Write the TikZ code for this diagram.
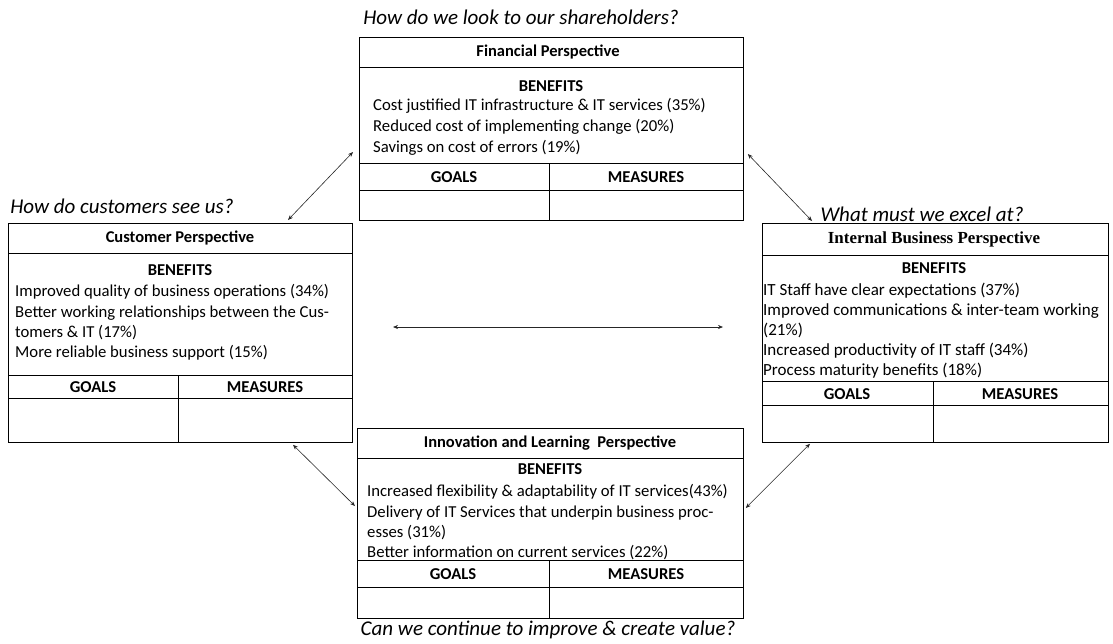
\documentclass[tikz,border=0pt]{standalone}
\usepackage{fontspec}
\setmainfont{Carlito}
\newfontfamily\timesfont{Liberation Serif}
\usetikzlibrary{arrows.meta,calc}

\tikzset{
  box/.style={draw, line width=0.8pt, anchor=north west, inner sep=0pt},
  rule/.style={line width=0.8pt},
  link/.style={{Stealth[length=5pt,width=4pt]}-{Stealth[length=5pt,width=4pt]}, line width=0.6pt, black!85},
  title/.style={font=\fontsize{16.5}{19}\selectfont\bfseries, inner sep=0pt},
  head/.style={font=\fontsize{16.6}{19}\selectfont\bfseries, inner sep=0pt},
  body/.style={align=left, anchor=north west, inner sep=0pt, font=\fontsize{16.7}{20.3}\selectfont},
  question/.style={inner sep=0pt, font=\fontsize{21}{24}\selectfont\itshape}
}

\begin{document}
\begin{tikzpicture}[x=1pt,y=-1pt]
  \useasboundingbox (0,0) rectangle (1113,643);

  % financial
  \node[box, minimum width=384pt, minimum height=183pt] (fin) at (359,37) {};
  \draw[rule] (359,67) -- (743,67);
  \node[title] (fint) at (548,52) {Financial Perspective};
  \node[head] (finh) at (551,86) {BENEFITS};
  \node[body, font=\fontsize{16.7}{21}\selectfont] (finb) at (373,98) {Cost justified IT infrastructure \& IT services (35\%)\\
    Reduced cost of implementing change (20\%)\\Savings on cost of errors (19\%)};
  \filldraw[rule, fill=white] (359,163) rectangle (743,220);
  \draw[rule] (359,190) -- (743,190);
  \draw[rule] (549,163) -- (549,220);
  \node[head] (fing) at (454,177) {GOALS};
  \node[head] (finm) at (646,177) {MEASURES};

  % customer
  \node[box, minimum width=344pt, minimum height=219pt] (cust) at (8,223) {};
  \draw[rule] (8,253) -- (352,253);
  \node[title] (custt) at (180,238) {Customer Perspective};
  \node[head] (custh) at (180,270) {BENEFITS};
  \node[body] (custb) at (15,284.5) {Improved quality of business operations (34\%)\\
    Better working relationships between the Cus-\\tomers \& IT (17\%)\\
    More reliable business support (15\%)};
  \filldraw[rule, fill=white] (8,375) rectangle (352,442);
  \draw[rule] (8,398) -- (352,398);
  \draw[rule] (178,375) -- (178,442);
  \node[head] (custg) at (93,387) {GOALS};
  \node[head] (custm) at (265,387) {MEASURES};

  % internal
  \node[box, minimum width=346pt, minimum height=219pt] (int) at (762,223) {};
  \draw[rule] (762,255) -- (1108,255);
  \node[title, font=\timesfont\fontsize{16.9}{20}\selectfont\bfseries] (intt) at (934,239) {Internal Business Perspective};
  \node[head] (inth) at (934,268) {BENEFITS};
  \node[body, font=\fontsize{17}{20.2}\selectfont] (intb) at (763,282.5) {IT Staff have clear expectations (37\%)\\
    Improved communications \& inter-team working\\(21\%)\\
    Increased productivity of IT staff (34\%)\\Process maturity benefits (18\%)};
  \filldraw[rule, fill=white] (762,381) rectangle (1108,442);
  \draw[rule] (762,405) -- (1108,405);
  \draw[rule] (933,381) -- (933,442);
  \node[head] (intg) at (847,394) {GOALS};
  \node[head] (intm) at (1020,394) {MEASURES};

  % innovation
  \node[box, minimum width=386pt, minimum height=190pt] (inn) at (357,428) {};
  \draw[rule] (357,458) -- (743,458);
  \node[title] (innt) at (550,443) {Innovation and Learning\ \ Perspective};
  \node[head] (innh) at (550,469) {BENEFITS};
  \node[body] (innb) at (367,484.5) {Increased flexibility \& adaptability of IT services(43\%)\\
    Delivery of IT Services that underpin business proc-\\esses (31\%)\\
    Better information on current services (22\%)};
  \filldraw[rule, fill=white] (357,560) rectangle (743,618);
  \draw[rule] (357,587) -- (743,587);
  \draw[rule] (549,560) -- (549,618);
  \node[head] (inng) at (453,574) {GOALS};
  \node[head] (innm) at (646,574) {MEASURES};

  % questions
  \node[question] (qfin) at (521,17) {How do we look to our shareholders?};
  \node[question] (qcust) at (122,206) {How do customers see us?};
  \node[question] (qint) at (922,214) {What must we excel at?};
  \node[question] (qinn) at (548,630) {Can we continue to improve \& create value?};

  % links
  \coordinate (ml) at (393,327);
  \coordinate (mr) at (723,327);
  \draw[link] ($(cust.north west)+(280,-3)$) -- ($(fin.north west)+(-6,115)$);
  \draw[link] ($(fin.north east)+(4,117)$) -- ($(int.north west)+(50,-2)$);
  \draw[link] (ml) -- (mr);
  \draw[link] ($(cust.south west)+(285,2)$) -- ($(inn.north west)+(-2,78)$);
  \draw[link] ($(inn.north east)+(2,80)$) -- ($(int.south west)+(48,1)$);
\end{tikzpicture}
\end{document}
